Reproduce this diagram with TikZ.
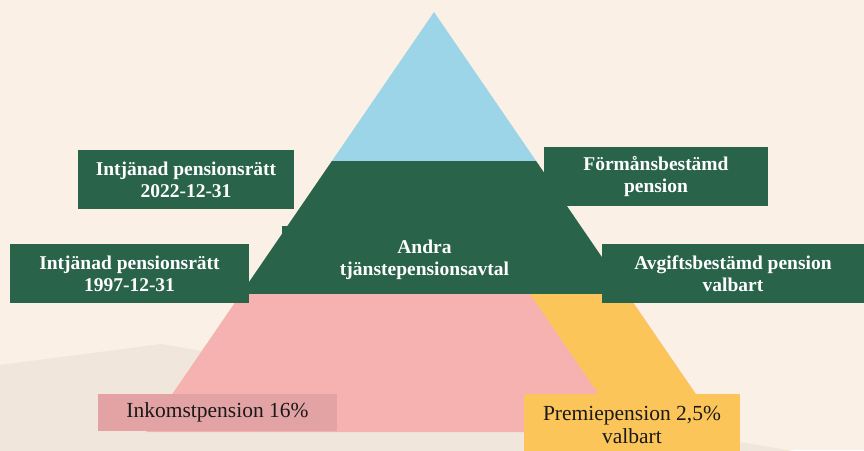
\documentclass[tikz,border=0pt]{standalone}
\usepackage{fontspec}
\setmainfont{Liberation Serif}
\usepackage{tikz}
\usetikzlibrary{positioning}

\definecolor{bgbeige}{HTML}{FAF0E6}
\definecolor{bgtaupe}{HTML}{F0E6DC}
\definecolor{pyrblue}{HTML}{9DD5E8}
\definecolor{pyrgreen}{HTML}{29634A}
\definecolor{pyrpink}{HTML}{F6B1B1}
\definecolor{pyryellow}{HTML}{FBC559}
\definecolor{boxpink}{HTML}{E3A3A4}

\begin{document}
\begin{tikzpicture}[x=1pt,y=-1pt,
    greenbox/.style={rectangle,fill=pyrgreen,text=white,align=center,
      inner sep=0pt,font=\fontsize{19.5}{22}\selectfont\bfseries},
    basebox/.style={rectangle,inner sep=0pt,align=center,text=black!90,
      font=\fontsize{21.5}{23}\selectfont}]
      \useasboundingbox (0,0) rectangle (864,450);
      \begin{scope}
        \clip (0,0) rectangle (864,450);
        \fill[bgbeige] (0,0) rectangle (864,450);
        \fill[bgtaupe] (0,365) -- (161,344) -- (864,463) -- (0,463) -- cycle;

        \fill[pyrblue] (434,12) -- (536.1,161) -- (331.9,161) -- cycle;
        \fill[pyrgreen] (331.9,161) -- (536.1,161) -- (627.2,294)
          -- (240.8,294) -- cycle;
        \fill[pyrpink] (240.8,294) -- (627.2,294) -- (721.7,432)
          -- (146.3,432) -- cycle;
        \fill[pyryellow] (530,294) -- (627.2,294) -- (721.7,432)
          -- (624.5,432) -- cycle;

        \node[greenbox,minimum width=285,minimum height=68] (andra)
          at (424.5,260) {Andra\\tjänstepensionsavtal};
        \node[greenbox,minimum width=216,minimum height=59] (ip22)
          at (186,179.5) {Intjänad pensionsrätt\\2022-12-31};
        \node[greenbox,minimum width=239,minimum height=59] (ip97)
          at (129.5,273.5) {Intjänad pensionsrätt\\1997-12-31};
        \node[greenbox,minimum width=224,minimum height=59] (fb)
          at (656,176.5) {Förmånsbestämd\\pension};
        \node[greenbox,minimum width=262,minimum height=59] (ab)
          at (733,273.5) {Avgiftsbestämd pension\\valbart};
        \node[basebox,fill=boxpink,minimum width=239,minimum height=37]
          (inkomst) at (217.5,412.5) {Inkomstpension 16\%};
        \node[basebox,fill=pyryellow,minimum width=216,minimum height=62]
          (premie) at (632,425) {Premiepension 2,5\%\\valbart};
      \end{scope}
    \end{tikzpicture}
\end{document}
